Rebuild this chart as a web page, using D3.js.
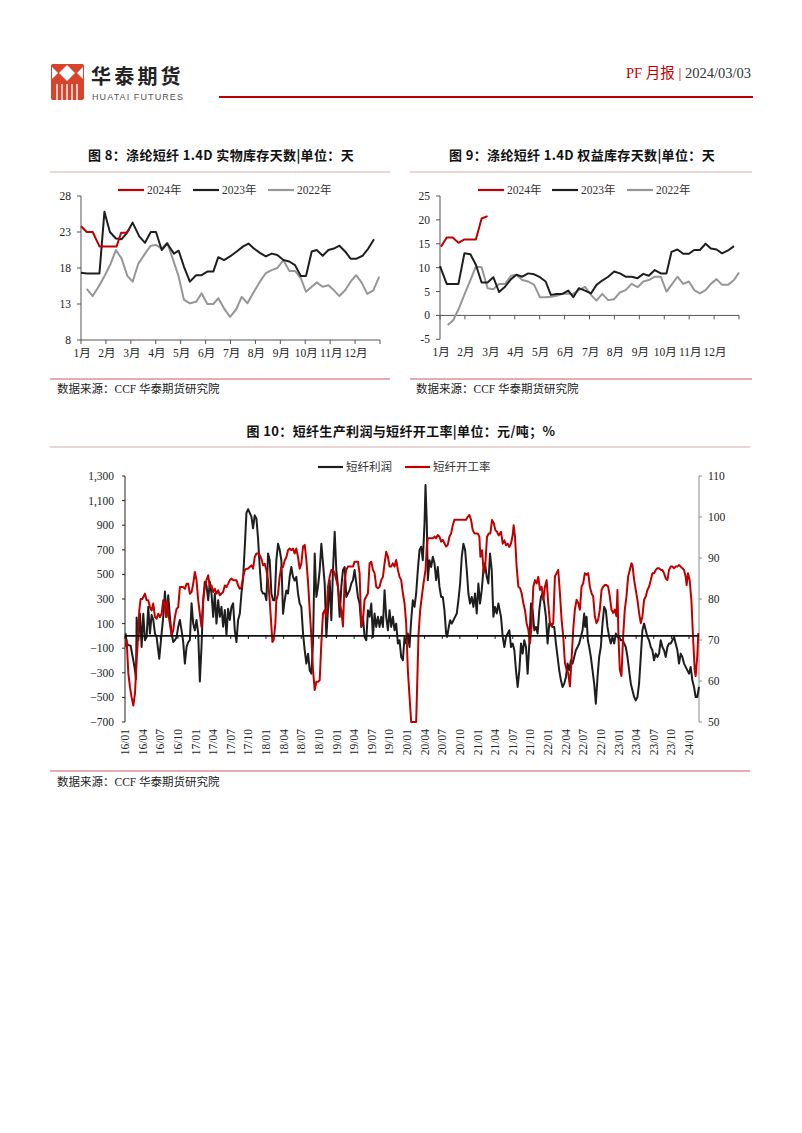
<!DOCTYPE html>
<html><head><meta charset="utf-8">
<script src="https://cdn.jsdelivr.net/npm/d3@7"></script>
<style>body{margin:0;background:#fff}svg{display:block}</style>
</head><body>
<svg id="page" width="802" height="1133"></svg>
<script>
// ---------- data ----------
const monthLabels = ["1月","2月","3月","4月","5月","6月","7月","8月","9月","10月","11月","12月"];
const legendYears = ["2024年","2023年","2022年"];
const c8Ticks = [8,13,18,23,28];
const c9Ticks = [-5,0,5,10,15,20,25];
// chart 8: [month offset, days]
const c8_2024 = [[0,23.8],[0.23,23.0],[0.47,23.0],[0.74,21.0],[0.96,21.0],[1.23,21.0],[1.43,21.0],[1.61,22.9],[1.81,22.9],[1.93,23.3]];
const c8_2023 = [[0,17.35],[0.23,17.25],[0.47,17.25],[0.74,17.25],[0.94,25.8],[1.16,23.0],[1.40,22.1],[1.63,22.0],[1.83,22.8],[2.07,24.3],[2.34,22.4],[2.57,21.5],[2.80,23.0],[3.01,23.0],[3.24,20.5],[3.46,21.4],[3.73,20.0],[3.92,20.4],[4.13,18.2],[4.37,16.1],[4.62,17.0],[4.84,17.0],[5.07,17.5],[5.31,17.5],[5.51,19.5],[5.74,19.1],[5.98,19.6],[6.25,20.3],[6.51,21.0],[6.72,21.4],[6.94,20.7],[7.18,20.1],[7.42,19.6],[7.65,20.0],[7.88,19.8],[8.12,19.1],[8.36,18.9],[8.59,18.4],[8.82,16.9],[9.03,16.9],[9.26,20.3],[9.46,20.5],[9.70,19.7],[9.93,20.5],[10.15,20.7],[10.37,21.1],[10.60,20.3],[10.82,19.3],[11.06,19.3],[11.30,19.7],[11.53,20.7],[11.76,22.0]];
const c8_2022 = [[0.23,15.1],[0.47,14.1],[0.74,15.6],[0.96,17.0],[1.19,18.6],[1.40,20.5],[1.63,19.3],[1.86,16.9],[2.07,16.1],[2.30,18.6],[2.57,20.0],[2.80,21.1],[3.01,21.2],[3.24,20.7],[3.46,21.5],[3.68,19.3],[3.92,16.8],[4.13,13.6],[4.37,13.1],[4.62,13.3],[4.84,14.5],[5.07,13.0],[5.31,13.0],[5.51,13.8],[5.74,12.4],[5.98,11.2],[6.22,12.2],[6.45,14.0],[6.68,13.1],[6.94,14.7],[7.18,16.1],[7.42,17.3],[7.65,17.7],[7.88,18.0],[8.12,19.1],[8.36,17.6],[8.59,17.6],[8.82,16.6],[9.03,14.7],[9.26,15.4],[9.46,16.0],[9.70,15.4],[9.93,15.6],[10.15,14.9],[10.37,14.1],[10.60,14.9],[10.82,16.1],[11.04,17.0],[11.26,16.0],[11.49,14.4],[11.73,14.9],[11.97,16.8]];
// chart 9
const c9_2024 = [[0.04,14.4],[0.27,16.3],[0.51,16.3],[0.74,15.2],[0.98,15.9],[1.22,15.9],[1.44,15.9],[1.67,20.3],[1.91,20.8]];
const c9_2023 = [[0,10.3],[0.27,6.6],[0.51,6.6],[0.74,6.6],[0.98,13.0],[1.22,12.8],[1.44,10.6],[1.67,6.9],[1.91,6.9],[2.14,8.0],[2.37,4.9],[2.61,6.0],[2.85,7.6],[3.07,8.5],[3.30,8.1],[3.54,8.8],[3.78,8.6],[4.01,8.0],[4.24,7.1],[4.45,4.3],[4.68,4.5],[4.91,4.5],[5.15,5.2],[5.35,3.8],[5.57,5.7],[5.82,5.2],[6.06,4.6],[6.28,6.4],[6.51,7.3],[6.75,8.1],[6.99,9.2],[7.22,8.8],[7.45,8.1],[7.69,8.1],[7.93,7.8],[8.16,8.7],[8.38,8.3],[8.62,9.5],[8.86,8.8],[9.09,8.8],[9.29,13.3],[9.53,13.8],[9.76,12.9],[9.99,12.9],[10.20,13.7],[10.43,13.7],[10.66,15.0],[10.87,14.0],[11.10,13.8],[11.32,13.0],[11.56,13.6],[11.80,14.5]];
const c9_2022 = [[0.31,-2.0],[0.53,-1.0],[0.76,1.5],[1.00,4.6],[1.22,7.4],[1.44,10.2],[1.67,10.1],[1.91,5.7],[2.14,5.5],[2.37,6.6],[2.61,6.6],[2.85,8.3],[3.07,8.5],[3.30,7.4],[3.54,7.1],[3.78,6.4],[4.01,3.8],[4.24,3.8],[4.45,3.9],[4.68,4.1],[4.91,4.5],[5.15,4.6],[5.35,4.5],[5.57,5.3],[5.82,6.0],[6.06,4.3],[6.28,3.1],[6.51,4.5],[6.75,3.2],[6.99,3.4],[7.22,4.8],[7.45,5.3],[7.69,6.6],[7.93,5.9],[8.16,7.1],[8.38,7.4],[8.62,8.1],[8.86,8.1],[9.09,5.0],[9.29,6.4],[9.53,8.1],[9.76,6.6],[9.99,7.1],[10.20,5.3],[10.43,4.6],[10.66,5.3],[10.87,6.6],[11.10,7.6],[11.32,6.4],[11.56,6.4],[11.80,7.4],[12.0,9.0]];
// chart 10: months since 2016-01
const quarterLabels = ["16/01","16/04","16/07","16/10","17/01","17/04","17/07","17/10","18/01","18/04","18/07","18/10","19/01","19/04","19/07","19/10","20/01","20/04","20/07","20/10","21/01","21/04","21/07","21/10","22/01","22/04","22/07","22/10","23/01","23/04","23/07","23/10","24/01"];
const leftTicks = [-700,-500,-300,-100,100,300,500,700,900,1100,1300];
const rightTicks = [50,60,70,80,90,100,110];
const seriesNames = ["短纤利润","短纤开工率"];
const profit = [[0.11,20],[0.28,-60],[0.57,-75],[0.96,-80],[1.42,-200],[1.70,-280],[1.87,-350],[1.98,150],[2.27,-35],[2.55,180],[2.83,-90],[3.11,180],[3.40,-35],[3.68,-10],[3.96,236],[4.25,20],[4.53,170],[4.81,130],[5.10,20],[5.38,-10],[5.83,-185],[6.23,20],[6.51,155],[6.80,360],[7.08,155],[7.36,330],[7.64,155],[7.93,20],[8.21,-50],[8.49,-35],[8.78,-10],[9.06,75],[9.34,130],[9.63,45],[9.91,-50],[10.19,-225],[10.48,-90],[10.76,-50],[11.04,-35],[11.33,265],[11.61,100],[11.89,45],[12.17,130],[12.46,20],[12.74,-370],[13.02,-90],[13.31,290],[13.59,440],[13.87,410],[14.16,290],[14.44,440],[14.72,345],[15.01,155],[15.29,345],[15.57,100],[15.86,290],[16.14,155],[16.42,236],[16.70,75],[16.99,210],[17.27,5],[17.55,220],[17.84,130],[18.12,236],[18.40,265],[18.69,45],[18.97,-50],[19.25,130],[19.54,180],[19.82,345],[20.10,466],[20.39,725],[20.67,1000],[20.95,1030],[21.23,1000],[21.52,970],[21.80,875],[22.08,980],[22.37,955],[22.65,790],[22.93,560],[23.22,370],[23.50,345],[23.78,345],[24.07,290],[24.35,670],[24.63,615],[24.92,345],[25.20,290],[25.48,290],[25.76,615],[26.05,750],[26.33,700],[26.61,615],[26.90,180],[27.18,290],[27.46,370],[27.75,345],[28.03,480],[28.31,560],[28.60,480],[28.88,450],[29.16,480],[29.45,345],[29.73,265],[30.01,236],[30.31,19],[30.59,-117],[30.87,-225],[31.16,-145],[31.44,-280],[31.72,-307],[32.00,-62],[32.29,670],[32.57,317],[32.85,400],[33.14,535],[33.42,750],[33.70,590],[33.99,425],[34.27,-8],[34.55,209],[34.84,453],[35.12,127],[35.40,535],[35.69,847],[35.97,535],[36.25,400],[36.54,155],[36.82,400],[37.10,535],[37.39,560],[37.67,317],[37.95,345],[38.23,372],[38.52,426],[38.80,453],[39.08,535],[39.37,426],[39.65,317],[39.93,263],[40.22,73],[40.50,155],[40.78,-8],[41.07,-35],[41.35,209],[41.63,155],[41.92,263],[42.20,-8],[42.48,182],[42.76,73],[43.05,155],[43.33,73],[43.61,155],[43.90,73],[44.18,372],[44.46,155],[44.75,46],[45.03,209],[45.31,73],[45.60,155],[45.88,46],[46.16,100],[46.45,-62],[46.73,-35],[47.01,-171],[47.30,-198],[47.58,-8],[47.86,-62],[48.14,19],[48.43,-90],[48.71,127],[48.99,290],[49.28,236],[49.56,345],[49.84,535],[50.13,698],[50.41,725],[50.69,616],[50.98,915],[51.15,1227],[51.37,915],[51.54,453],[51.83,616],[52.11,560],[52.39,643],[52.68,590],[52.96,453],[53.24,560],[53.52,400],[53.81,317],[54.09,317],[54.37,209],[54.66,19],[54.83,-8],[55.11,73],[55.34,127],[55.62,100],[55.90,127],[56.19,155],[56.47,182],[56.75,290],[57.04,426],[57.32,643],[57.60,750],[57.89,698],[58.17,535],[58.45,345],[58.73,263],[59.02,317],[59.30,236],[59.58,345],[59.87,182],[60.15,426],[60.43,263],[60.72,372],[61.00,535],[61.28,590],[61.57,480],[61.85,426],[62.13,670],[62.42,535],[62.70,155],[62.98,236],[63.27,182],[63.55,263],[64.00,155],[64.29,-8],[64.57,-90],[64.85,-8],[65.14,19],[65.42,46],[65.70,-90],[65.99,-62],[66.27,-117],[66.55,-280],[66.83,-415],[67.12,-280],[67.40,-62],[67.68,-144],[67.97,-35],[68.25,-90],[68.53,-307],[68.82,-62],[69.10,263],[69.38,209],[69.67,46],[69.95,73],[70.23,19],[70.52,209],[70.80,317],[71.08,345],[71.37,263],[71.65,155],[71.93,-62],[72.21,100],[72.50,100],[72.78,73],[73.06,73],[73.35,-62],[73.63,-171],[73.91,-280],[74.20,-361],[74.48,-415],[74.76,-388],[75.05,-334],[75.33,-225],[75.61,-280],[75.90,-198],[76.18,-225],[76.46,-171],[76.74,-117],[77.03,-90],[77.31,-62],[77.59,-8],[77.88,46],[78.16,182],[78.33,73],[78.56,155],[78.78,-35],[79.01,-90],[79.29,-171],[79.58,-280],[79.86,-388],[80.14,-551],[80.43,-334],[80.71,-171],[80.99,-90],[81.28,100],[81.56,236],[81.84,209],[82.12,73],[82.41,-8],[82.69,-62],[82.97,-8],[83.26,-62],[83.54,19],[83.82,-8],[84.11,-8],[84.39,-35],[84.67,-35],[84.96,-62],[85.24,-90],[85.52,-171],[85.81,-280],[86.09,-388],[86.37,-442],[86.66,-497],[86.94,-524],[87.22,-497],[87.50,-388],[87.79,-171],[88.07,46],[88.35,100],[88.64,46],[88.92,-8],[89.20,-35],[89.49,-90],[89.77,-117],[90.05,-198],[90.34,-144],[90.62,-171],[90.90,-144],[91.19,-35],[91.47,-90],[91.75,-117],[92.04,-171],[92.32,-90],[92.60,-62],[92.88,-62],[93.17,-35],[93.45,-8],[93.73,-62],[94.02,-117],[94.30,-225],[94.58,-144],[94.87,-171],[95.15,-225],[95.43,-252],[95.72,-280],[96.00,-307],[96.28,-252],[96.57,-361],[96.85,-415],[97.13,-497],[97.41,-497],[97.70,-415]];
const opRate = [[0.11,68.3],[0.28,70],[0.57,61.8],[0.85,58.5],[1.13,56],[1.42,54],[1.70,57],[1.98,65],[2.15,69],[2.43,77.2],[2.66,80],[2.94,80],[3.11,80.5],[3.40,81.3],[3.68,79.7],[3.96,79.7],[4.25,78],[4.53,77.2],[4.81,78.9],[5.10,75.6],[5.38,75.2],[5.66,76.4],[5.95,75.6],[6.23,76.4],[6.51,79.7],[6.80,78.9],[6.97,75.6],[7.19,79.3],[7.36,76.4],[7.64,74],[7.93,71.1],[8.21,72.4],[8.49,75.6],[8.78,77.6],[9.06,78],[9.34,82.9],[9.63,82.9],[9.91,82.9],[10.19,82.5],[10.48,83.7],[10.76,83.7],[11.04,81.3],[11.33,81.7],[11.61,83.7],[11.89,86.6],[12.17,84.6],[12.46,79.7],[12.74,76.4],[13.02,73.2],[13.31,79.7],[13.59,82.9],[13.87,84.6],[14.16,85.8],[14.44,82.9],[14.72,83.3],[15.01,81.7],[15.29,82.5],[15.57,81.3],[15.86,82.1],[16.14,80.9],[16.70,81.7],[16.99,83.3],[17.27,82.9],[17.55,83.7],[17.84,84.6],[18.12,85],[18.40,84.6],[18.97,84.6],[19.25,83.3],[19.54,82.5],[19.82,82.9],[20.10,85.4],[20.39,87],[20.67,87.4],[20.95,87.4],[21.23,87.8],[21.52,88.2],[21.80,87.4],[22.08,90.2],[22.37,91.1],[22.65,91.1],[22.93,90.7],[23.22,89.8],[23.50,88.2],[23.78,88.6],[24.07,87],[24.35,84.6],[24.63,79.7],[24.92,73.2],[25.09,69.5],[25.31,70],[25.59,74],[25.76,79.7],[26.05,81.3],[26.33,85.4],[26.61,87.8],[26.90,87.8],[27.18,89.4],[27.46,90.2],[27.75,91.9],[28.03,92.3],[28.31,91.9],[28.60,92.3],[28.88,91.1],[29.16,92.3],[29.45,90.2],[29.73,87.4],[30.01,88.6],[30.31,92.8],[30.59,93.2],[30.87,89.5],[31.16,84],[31.44,77.3],[31.72,70.8],[32.00,62.7],[32.29,57.8],[32.57,59.8],[32.85,59.8],[33.14,60.2],[33.42,69.2],[33.70,76.5],[33.99,77.3],[34.27,75.7],[34.55,83],[34.84,85.4],[35.12,87.1],[35.40,87.1],[35.69,86.3],[35.97,84.6],[36.25,83],[36.54,78.9],[36.82,77.3],[37.10,73.3],[37.39,84.6],[37.67,87.1],[37.95,87.9],[38.23,87.9],[38.52,87.9],[38.80,87.9],[39.08,89.1],[39.37,89.1],[39.65,89.1],[39.93,86.3],[40.22,73.3],[40.50,74.9],[40.78,79.8],[41.07,80.6],[41.35,81.4],[41.63,88.7],[41.92,89.1],[42.20,87.1],[42.48,86.3],[42.76,83],[43.05,82.6],[43.33,83],[43.61,84.6],[43.90,85.4],[44.18,88.7],[44.46,91.5],[44.75,90.3],[45.03,87.9],[45.31,87.9],[45.60,88.7],[45.88,87.9],[46.16,89.5],[46.45,87.1],[46.73,85.4],[47.01,84.6],[47.30,81.4],[47.58,78.9],[47.86,74.1],[48.14,62.7],[48.43,56.2],[48.71,50],[48.99,50],[49.28,50],[49.56,50],[49.73,59],[49.96,71.3],[50.24,77.3],[50.52,80.6],[50.81,83.8],[51.15,87.1],[51.37,92.8],[51.54,94.8],[51.83,94.8],[52.11,94.8],[52.39,94.8],[52.68,95.2],[52.96,94.8],[53.24,95.6],[53.52,95.2],[53.81,94],[54.09,94.4],[54.37,93.6],[54.66,92.8],[54.94,93.2],[55.22,95.2],[55.51,96],[55.79,98],[56.07,99.3],[56.36,99.3],[56.92,99.3],[57.49,99.3],[58.06,99.3],[58.34,100.1],[58.62,100.5],[58.90,99.3],[59.19,96.8],[59.47,96],[59.75,96],[60.04,96],[60.32,95.2],[60.49,90.3],[60.77,91.9],[61.06,86.3],[61.34,88.7],[61.62,95.2],[61.91,96],[62.19,96],[62.47,99.3],[62.76,98.5],[63.04,96.8],[63.32,96.4],[63.61,95.5],[64.00,96.4],[64.29,93.5],[64.57,94.3],[64.85,93.1],[65.14,93.5],[65.42,92.7],[65.70,93.5],[65.99,95.6],[66.15,98],[66.38,95.2],[66.66,87.9],[66.95,83],[67.23,82.7],[67.51,81.4],[67.80,79],[68.08,77.3],[68.36,74.1],[68.65,72.5],[68.93,69.2],[69.21,73.4],[69.50,83],[69.78,84.6],[70.06,83.8],[70.35,85.4],[70.63,82.2],[70.91,83],[71.20,79.8],[71.48,83],[71.76,84.6],[72.04,79],[72.33,74.1],[72.61,73.3],[72.89,74.1],[73.18,85.5],[73.46,86.3],[73.74,87.1],[74.03,81.4],[74.31,75],[74.59,70.9],[74.88,64.4],[75.16,62.8],[75.44,61.9],[75.73,58.7],[76.01,65.3],[76.29,72.5],[76.57,77.4],[76.86,79.8],[77.14,79],[77.42,77.4],[77.71,83],[77.99,83.8],[78.27,86.3],[78.56,85.9],[78.84,86.3],[79.12,83],[79.41,81.4],[79.69,80.6],[79.97,75.8],[80.26,74.1],[80.54,75],[80.82,77.4],[81.11,82.2],[81.39,83],[81.67,83.4],[81.95,83.4],[82.24,83],[82.52,80.6],[82.80,77.4],[83.09,76.6],[83.37,77.4],[83.65,75.8],[83.82,82.2],[83.99,70.9],[84.22,62.8],[84.50,61.2],[84.79,70.9],[85.07,77.4],[85.35,80.6],[85.64,85.5],[85.92,87.1],[86.20,88.7],[86.37,88.3],[86.66,84.6],[86.94,82.2],[87.22,79.8],[87.50,76.6],[87.79,74.1],[88.07,75.8],[88.35,79.8],[88.64,80.6],[88.92,82.2],[89.20,83],[89.49,84.6],[89.77,86.3],[90.05,86.3],[90.34,87.1],[90.62,87.5],[90.90,87.5],[91.19,87.1],[91.47,87.1],[91.75,86.3],[92.04,85],[92.32,84.6],[92.60,87.1],[92.88,87.9],[93.17,87.9],[93.45,87.5],[93.73,87.9],[94.02,87.9],[94.30,88.3],[94.58,87.9],[94.87,87.5],[95.15,87.1],[95.43,85.5],[95.60,83.4],[95.83,86.3],[96.11,84.6],[96.40,79.8],[96.68,70.9],[96.96,62.8],[97.13,61.2],[97.41,66.1],[97.58,71.7]];

// ---------- styles ----------
const RED = "#c00000", BLACK = "#1e1e1e", GRAY = "#969696";
const SERIF = "'Liberation Serif','Times New Roman','Noto Sans CJK SC',serif";
const SANS = "'Noto Sans CJK SC','Noto Sans',sans-serif";
const svg = d3.select("#page");

// ---------- header ----------
const logo = svg.append("g");
logo.append("rect").attr("x",51).attr("y",64).attr("width",33).attr("height",36).attr("rx",2).attr("fill","#d8432b");
[[67,65,75,73,67,81,59,73],[52,67,58,73,52,79],[83,67,77,73,83,79]].forEach(p=>{
  const pts=[]; for(let i=0;i<p.length;i+=2) pts.push([p[i],p[i+1]]);
  logo.append("polygon").attr("points",pts.map(d=>d.join(",")).join(" ")).attr("fill","#fff");
});
[57,62,67,72,77].forEach(x=>logo.append("rect").attr("x",x-0.7).attr("y",84).attr("width",1.4).attr("height",16).attr("fill","#fff"));
svg.append("text").attr("x",91).attr("y",84).attr("font-family",SANS).attr("font-weight",700).attr("font-size",20).attr("letter-spacing",3.2).attr("fill","#222").text("华泰期货");
svg.append("text").attr("x",92).attr("y",100).attr("font-family","'Liberation Sans',Arial,sans-serif").attr("font-size",9).attr("letter-spacing",1.1).attr("fill","#555").text("HUATAI FUTURES");
const hdr = svg.append("text").attr("x",751).attr("y",78).attr("text-anchor","end").attr("font-family",SERIF).attr("font-size",14.5);
hdr.append("tspan").attr("fill",RED).text("PF 月报 |  ");
hdr.append("tspan").attr("fill","#333").text("2024/03/03");
svg.append("line").attr("x1",219).attr("x2",753).attr("y1",97).attr("y2",97).attr("stroke","#c00000").attr("stroke-width",2);

// ---------- helpers ----------
function title(x,y,txt){
  svg.append("text").attr("x",x).attr("y",y).attr("text-anchor","middle").attr("font-family",SANS)
    .attr("font-weight",700).attr("font-size",13).attr("letter-spacing",0.35).attr("fill","#111").text(txt);
}
function hline(x1,x2,y,color,w){svg.append("line").attr("x1",x1).attr("x2",x2).attr("y1",y).attr("y2",y).attr("stroke",color).attr("stroke-width",w||1);}
function source(x,y){svg.append("text").attr("x",x).attr("y",y).attr("font-family",SERIF).attr("font-size",11.5).attr("fill","#222").text("数据来源：CCF  华泰期货研究院");}
function legendItem(g,x,y,color,label,lw){
  g.append("line").attr("x1",x).attr("x2",x+lw).attr("y1",y).attr("y2",y).attr("stroke",color).attr("stroke-width",2.2);
  g.append("text").attr("x",x+lw+3).attr("y",y+4).attr("font-family",SERIF).attr("font-size",11.5).attr("fill","#333").text(label);
}
function drawLine(g,data,x,y,color,w){
  g.append("path").datum(data).attr("fill","none").attr("stroke",color).attr("stroke-width",w).attr("stroke-linejoin","round")
   .attr("d",d3.line().x(d=>x(d[0])).y(d=>y(d[1])));
}

// ---------- small charts ----------
function smallChart(cfg){
  const g = svg.append("g");
  const x = d3.scaleLinear().domain([0,12]).range([cfg.x0,cfg.x1]);
  const y = d3.scaleLinear().domain(cfg.ydom).range([cfg.yb,cfg.yt]);
  g.append("line").attr("x1",cfg.x0).attr("x2",cfg.x0).attr("y1",cfg.yt).attr("y2",cfg.yb).attr("stroke","#555");
  cfg.yticks.forEach(t=>{
    g.append("line").attr("x1",cfg.x0-4).attr("x2",cfg.x0).attr("y1",y(t)).attr("y2",y(t)).attr("stroke","#555");
    g.append("text").attr("x",cfg.x0-10).attr("y",y(t)+4).attr("text-anchor","end").attr("font-family",SERIF).attr("font-size",11.5).attr("fill","#222").text(t);
  });
  const ya = y(cfg.xAxisAt);
  g.append("line").attr("x1",cfg.x0).attr("x2",cfg.x1).attr("y1",ya).attr("y2",ya).attr("stroke","#555");
  d3.range(13).forEach(i=>g.append("line").attr("x1",x(i)).attr("x2",x(i)).attr("y1",ya).attr("y2",ya+4).attr("stroke","#555"));
  monthLabels.forEach((m,i)=>g.append("text").attr("x",x(i)+1).attr("y",cfg.yb+17).attr("text-anchor","middle").attr("font-family",SERIF).attr("font-size",11.5).attr("fill","#222").text(m));
  drawLine(g,cfg.s2022,x,y,GRAY,2);
  drawLine(g,cfg.s2023,x,y,BLACK,2);
  drawLine(g,cfg.s2024,x,y,RED,2);
  legendItem(g,cfg.lx[0],190,RED,legendYears[0],26);
  legendItem(g,cfg.lx[1],190,BLACK,legendYears[1],26);
  legendItem(g,cfg.lx[2],190,GRAY,legendYears[2],26);
}

title(221,160,"图 8：涤纶短纤 1.4D 实物库存天数|单位：天");
title(582,160,"图 9：涤纶短纤 1.4D 权益库存天数|单位：天");
hline(50,390,172,"#d7a9a9",1.2);
hline(410,752,172,"#d7a9a9",1.2);
smallChart({x0:81,x1:380,yt:196,yb:340,ydom:[8,28],yticks:c8Ticks,xAxisAt:8,s2024:c8_2024,s2023:c8_2023,s2022:c8_2022,lx:[118,193,268]});
smallChart({x0:440,x1:739,yt:196,yb:339.3,ydom:[-5,25],yticks:c9Ticks,xAxisAt:0,s2024:c9_2024,s2023:c9_2023,s2022:c9_2022,lx:[478,552,627]});
hline(50,390,379,"#cf5a66",1.2);
hline(410,752,379,"#cf5a66",1.2);
source(57,393);
source(416,393);

// ---------- chart 10 ----------
title(401,436,"图 10：短纤生产利润与短纤开工率|单位：元/吨；%");
hline(50,750,447,"#d7a9a9",1.2);
{
  const g = svg.append("g");
  const X0=125, X1=699, YT=476, YB=722;
  const x = d3.scaleLinear().domain([0,97.7]).range([X0,X1]);
  const yL = d3.scaleLinear().domain([-700,1300]).range([YB,YT]);
  const yR = d3.scaleLinear().domain([50,110]).range([YB,YT]);
  const fmt = d3.format(",");
  g.append("line").attr("x1",X0).attr("x2",X0).attr("y1",YT).attr("y2",YB).attr("stroke","#222");
  leftTicks.forEach(t=>{
    g.append("line").attr("x1",X0-3).attr("x2",X0).attr("y1",yL(t)).attr("y2",yL(t)).attr("stroke","#222");
    g.append("text").attr("x",X0-11).attr("y",yL(t)+4).attr("text-anchor","end").attr("font-family",SERIF).attr("font-size",11.5).attr("fill","#222").text(fmt(t));
  });
  g.append("line").attr("x1",X1).attr("x2",X1).attr("y1",YT).attr("y2",YB).attr("stroke","#8c8c8c");
  rightTicks.forEach(t=>{
    g.append("line").attr("x1",X1).attr("x2",X1+3).attr("y1",yR(t)).attr("y2",yR(t)).attr("stroke","#8c8c8c");
    g.append("text").attr("x",X1+9).attr("y",yR(t)+4).attr("font-family",SERIF).attr("font-size",11.5).attr("fill","#222").text(t);
  });
  quarterLabels.forEach((lab,i)=>{
    g.append("text").attr("transform",`translate(${x(i*3)+4},729) rotate(-90)`).attr("text-anchor","end")
      .attr("font-family",SERIF).attr("font-size",11.5).attr("fill","#222").text(lab);
  });
  drawLine(g,profit,x,yL,BLACK,2);
  drawLine(g,opRate,x,yR,RED,2);
  const y0 = yL(0);
  g.append("line").attr("x1",X0).attr("x2",X1).attr("y1",y0).attr("y2",y0).attr("stroke","#111").attr("stroke-width",1.6);
  quarterLabels.forEach((lab,i)=>g.append("line").attr("x1",x(i*3)).attr("x2",x(i*3)).attr("y1",y0).attr("y2",y0+3).attr("stroke","#111"));
  legendItem(g,318,467,BLACK,seriesNames[0],25);
  legendItem(g,405,467,RED,seriesNames[1],25);
}
hline(50,750,771,"#cf5a66",1.2);
source(57,786);
</script>
</body></html>
